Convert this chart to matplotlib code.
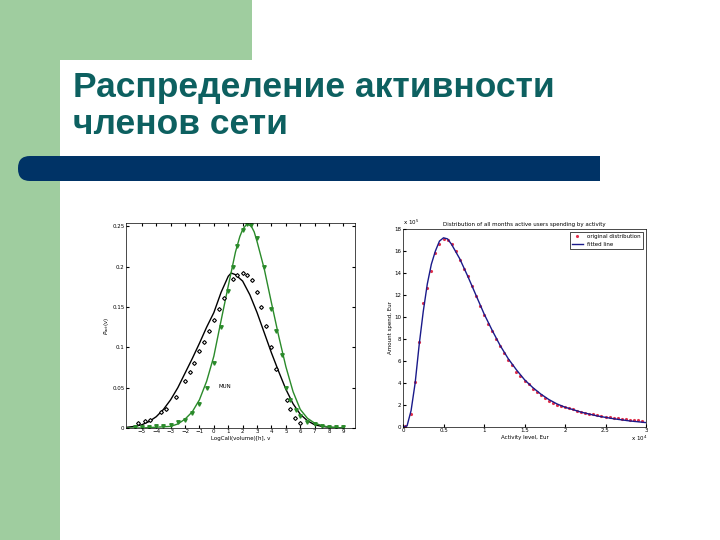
import matplotlib
matplotlib.use("Agg")
import matplotlib.pyplot as plt
from matplotlib.patches import Rectangle, FancyBboxPatch

title_lines = ["Распределение активности", "членов сети"]

# Left chart data
black_curve_x = [-6,-5.5,-5,-4.5,-4,-3.5,-3,-2.5,-2,-1.5,-1,-0.5,0,0.5,1,1.2,1.5,2,2.5,3,3.5,4,4.5,5,5.5,6,6.5,7,7.5,8,9]
black_curve_y = [0.001,0.002,0.004,0.008,0.014,0.023,0.035,0.05,0.068,0.086,0.105,0.125,0.143,0.168,0.188,0.192,0.19,0.182,0.165,0.143,0.118,0.093,0.07,0.048,0.03,0.017,0.009,0.004,0.002,0.001,0.0]
green_curve_x = [-6,-5,-4,-3,-2.5,-2,-1.5,-1,-0.5,0,0.5,1,1.5,1.8,2,2.3,2.6,2.8,3,3.5,4,4.5,5,5.5,6,6.5,7,7.5,8,9]
green_curve_y = [0.0,0.0,0.001,0.002,0.005,0.011,0.02,0.035,0.058,0.089,0.133,0.176,0.218,0.237,0.246,0.253,0.25,0.243,0.231,0.197,0.155,0.114,0.076,0.045,0.023,0.012,0.006,0.003,0.001,0.0]
black_pts_x = [-5.3,-4.8,-4.4,-3.7,-3.3,-2.6,-2,-1.66,-1.4,-1,-0.67,-0.37,0,0.33,0.67,1.3,1.64,2,2.3,2.66,3,3.3,3.6,4,4.3,5.1,5.3,5.65,6]
black_pts_y = [0.006,0.009,0.01,0.02,0.024,0.039,0.058,0.069,0.08,0.095,0.106,0.12,0.134,0.147,0.161,0.184,0.189,0.192,0.19,0.183,0.169,0.15,0.126,0.1,0.073,0.035,0.023,0.012,0.006]
green_pts_x = [-5.5,-5,-4.5,-4,-3.5,-3,-2.5,-2,-1.5,-1,-0.5,0,0.5,1,1.3,1.6,2,2.3,2.6,3,3.5,4,4.3,4.7,5,5.3,5.7,6,6.5,7,7.5,8,8.5,9]
green_pts_y = [0.001,0.001,0.001,0.002,0.003,0.004,0.007,0.01,0.018,0.03,0.05,0.08,0.125,0.17,0.2,0.225,0.245,0.253,0.252,0.235,0.2,0.148,0.12,0.09,0.05,0.035,0.022,0.015,0.008,0.005,0.002,0.001,0.001,0.001]
left_yticks = [0,0.05,0.1,0.15,0.2,0.25]
left_yticklabels = ["0","0.05","0.1","0.15","0.2","0.25"]
left_xticks = [-5,-4,-3,-2,-1,0,1,2,3,4,5,6,7,8,9]

# Right chart data
fit_x = [0,0.05,0.1,0.15,0.2,0.25,0.3,0.35,0.4,0.45,0.5,0.55,0.6,0.7,0.8,0.9,1.0,1.1,1.2,1.3,1.4,1.5,1.6,1.7,1.8,1.9,2.0,2.2,2.4,2.6,2.8,3.0]
fit_y = [0,0.1,1.5,4,7.5,10.5,13,14.8,16,16.9,17.2,17.1,16.6,15.3,13.7,12,10.3,8.8,7.4,6.2,5.2,4.3,3.6,3.0,2.5,2.1,1.8,1.35,1.0,0.75,0.55,0.4]
orig_x = [0.02,0.1,0.15,0.2,0.25,0.3,0.35,0.4,0.45,0.5,0.55,0.6,0.65,0.7,0.75,0.8,0.85,0.9,0.95,1.0,1.05,1.1,1.15,1.2,1.25,1.3,1.35,1.4,1.45,1.5,1.55,1.6,1.65,1.7,1.75,1.8,1.85,1.9,1.95,2.0,2.05,2.1,2.15,2.2,2.25,2.3,2.35,2.4,2.45,2.5,2.55,2.6,2.65,2.7,2.75,2.8,2.85,2.9,2.95]
orig_y = [0.1,1.2,4.1,7.7,11.3,12.6,14.2,15.8,16.6,17.1,17.0,16.6,16.0,15.2,14.4,13.7,12.8,11.9,11.0,10.2,9.4,8.7,8.0,7.4,6.7,6.1,5.6,5.0,4.6,4.2,3.9,3.5,3.2,2.9,2.6,2.4,2.2,2.0,1.9,1.8,1.7,1.6,1.5,1.4,1.3,1.2,1.15,1.05,1.0,0.95,0.9,0.85,0.8,0.75,0.7,0.65,0.6,0.6,0.55]
right_xticks = [0,0.5,1,1.5,2,2.5,3]
right_xticklabels = ["0","0.5","1","1.5","2","2.5","3"]
right_yticks = [0,2,4,6,8,10,12,14,16,18]

W, H = 720, 540
fig = plt.figure(figsize=(7.2, 5.4), dpi=100)
bg = fig.add_axes([0, 0, 1, 1])
bg.set_xlim(0, W); bg.set_ylim(H, 0); bg.axis("off")
green = "#9fcd9f"
bg.add_patch(Rectangle((0, 0), 60, H, color=green, lw=0))
bg.add_patch(Rectangle((0, 0), 252, 60, color=green, lw=0))
bg.add_patch(FancyBboxPatch((18, 156), 582, 25, boxstyle="round,pad=0,rounding_size=12", color="#003366", lw=0))
bg.add_patch(Rectangle((300, 156), 300, 25, color="#003366", lw=0))
for i, t in enumerate(title_lines):
    bg.text(73, 87 + i * 38, t, fontsize=25.5, fontweight="bold", color="#0d6060",
            family="Liberation Sans", va="center", ha="left")

fs = 4
# Left chart
ax1 = fig.add_axes([126/W, 1-428/H, (355-126)/W, (428-223)/H])
ax1.plot(black_curve_x, black_curve_y, color="black", lw=1)
ax1.plot(green_curve_x, green_curve_y, color="#2a8a2a", lw=1)
ax1.plot(black_pts_x, black_pts_y, "D", color="black", ms=2, mfc="white", mew=0.8)
ax1.plot(green_pts_x, green_pts_y, "v", color="#2a8a2a", ms=2.5)
ax1.set_xlim(-6.1, 9.8); ax1.set_ylim(0, 0.254)
ax1.set_xticks(left_xticks); ax1.set_yticks(left_yticks)
ax1.set_yticklabels(left_yticklabels)
ax1.tick_params(labelsize=fs, direction="in", length=2, right=True, top=True, pad=1)
ax1.text(0.3, 0.05, "MUN", fontsize=fs)
ax1.set_xlabel("LogCall(volume)[h], v", fontsize=fs, labelpad=1)
ax1.set_ylabel(r"$P_{act}(v)$", fontsize=fs, labelpad=1)
for s in ax1.spines.values(): s.set_linewidth(0.5)

# Right chart
ax2 = fig.add_axes([403/W, 1-427/H, (646-403)/W, (427-229)/H])
ax2.plot(orig_x, orig_y, ".", color="#e0304a", ms=2.5, label="original distribution")
ax2.plot(fit_x, fit_y, color="#1a1a8a", lw=1, label="fitted line")
ax2.set_xlim(0, 3); ax2.set_ylim(0, 18)
ax2.set_xticks(right_xticks); ax2.set_xticklabels(right_xticklabels)
ax2.set_yticks(right_yticks)
ax2.tick_params(labelsize=fs, direction="in", length=2, pad=1)
ax2.set_xlabel("Activity level, Eur", fontsize=fs, labelpad=1)
ax2.set_ylabel("Amount spend, Eur", fontsize=fs, labelpad=1)
ax2.set_title("Distribution of all months active users spending by activity", fontsize=fs, pad=2)
ax2.text(0, 1.01, r"x 10$^{5}$", transform=ax2.transAxes, fontsize=fs, ha="left", va="bottom")
ax2.text(0.97, -0.035, r"x 10$^{4}$", transform=ax2.transAxes, fontsize=fs, ha="center", va="top")
leg = ax2.legend(fontsize=fs, loc="upper right", fancybox=False, edgecolor="black", framealpha=1)
leg.get_frame().set_linewidth(0.5)
for s in ax2.spines.values(): s.set_linewidth(0.5)

fig.savefig("out.png", dpi=100)
